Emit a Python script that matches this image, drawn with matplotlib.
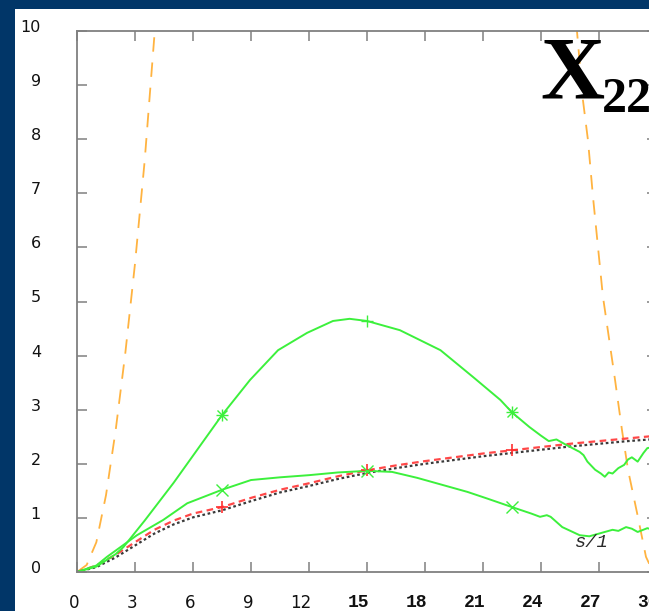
import numpy as np
import matplotlib
matplotlib.use("Agg")
import matplotlib.pyplot as plt
from matplotlib.patches import Rectangle
from matplotlib.transforms import ScaledTranslation

# data
upper_x = [0, 1, 2, 2.4, 3.5, 5, 6.5, 7.5, 8.95, 10.4, 11.9, 13.24, 14.1, 15.0, 16.7,
           18.8, 20.5, 21.9, 22.5, 23.4, 24.0, 24.4, 24.8, 25.3, 26.0, 26.2, 26.4,
           26.8, 27.1, 27.3, 27.5, 27.7, 28.0, 28.3, 28.5, 28.7, 29.0, 29.3, 29.5, 30]
upper_y = [0, 0.1, 0.33, 0.46, 0.95, 1.65, 2.4, 2.9, 3.55, 4.1, 4.42, 4.64, 4.68, 4.64, 4.47,
           4.1, 3.6, 3.18, 2.95, 2.68, 2.52, 2.42, 2.45, 2.35, 2.22, 2.16, 2.04,
           1.89, 1.82, 1.76, 1.84, 1.82, 1.92, 1.98, 2.08, 2.12, 2.04, 2.2, 2.29, 2.32]

lower_x = [0, 1, 1.55, 3.1, 4.45, 5.7, 7.5, 9, 10.5, 12, 13.5, 15, 16.3, 17.6, 19,
           20.2, 21.2, 22.5, 23.5, 23.95, 24.3, 24.5, 25.1, 26.0, 26.5, 26.9, 27.3,
           27.7, 28.0, 28.4, 28.7, 29.0, 29.5, 30]
lower_y = [0, 0.12, 0.28, 0.68, 0.96, 1.27, 1.52, 1.7, 1.75, 1.79, 1.84, 1.87, 1.85, 1.74, 1.6,
           1.48, 1.36, 1.2, 1.08, 1.02, 1.05, 1.02, 0.83, 0.68, 0.66, 0.7, 0.74,
           0.78, 0.76, 0.83, 0.8, 0.74, 0.81, 0.76]

s_x = [0, 1, 2, 3, 4, 5, 6, 7.5, 9, 10.5, 12, 13.5, 15, 16.5, 18, 19.5, 21, 22.5,
       24, 25.5, 27, 28.5, 30]
red_y = [0, 0.12, 0.32, 0.55, 0.78, 0.95, 1.08, 1.2, 1.37, 1.52, 1.64, 1.77, 1.88,
         1.97, 2.05, 2.12, 2.19, 2.25, 2.31, 2.37, 2.42, 2.47, 2.52]
black_y = [0, 0.09, 0.27, 0.49, 0.71, 0.88, 1.01, 1.14, 1.31, 1.47, 1.59, 1.72, 1.83,
           1.92, 2.0, 2.07, 2.14, 2.2, 2.26, 2.32, 2.37, 2.42, 2.46]

orange_left_x = [0, 0.5, 1, 1.5, 2, 2.5, 3, 3.5, 4, 4.1]
orange_left_y = [0, 0.13, 0.55, 1.42, 2.62, 4.05, 5.7, 7.6, 9.9, 10.4]
orange_right_x = [25.7, 25.86, 26.17, 26.43, 26.69, 27.2, 27.83, 28.19, 28.5, 28.97,
                  29.43, 29.8]
orange_right_y = [10.6, 10.0, 8.72, 7.98, 6.93, 5.1, 3.55, 2.62, 1.89, 1.09, 0.28, 0.0]

mark_x = [7.5, 15, 22.5]
x_ticks = [0, 3, 6, 9, 12, 15, 18, 21, 24, 27, 30]
y_ticks = list(range(11))

W, H = 649, 611
fig = plt.figure(figsize=(W / 100, H / 100), dpi=100, facecolor="#013668")
fig.patches.append(Rectangle((15 / W, 0), 1, 1 - 9 / H, transform=fig.transFigure,
                             facecolor="white", edgecolor="none", zorder=-5))

ax = fig.add_axes([77 / W, 39 / H, (657 - 77) / W, (572 - 31) / H])
ax.set_zorder(1)
ax.set_facecolor("white")
ax.set_xlim(0, 30)
ax.set_ylim(0, 10)

green = "#3cf03c"
ax.plot(orange_left_x, orange_left_y, color="#ffb340", lw=1.3, dashes=(8, 6))
ax.plot(orange_right_x, orange_right_y, color="#ffb340", lw=1.3, dashes=(8, 6))
ax.plot(s_x, black_y, color="#3a3a3a", lw=1.6, dashes=(1.2, 1.2))
ax.plot(s_x, red_y, color="#ff4848", lw=1.6, dashes=(3, 2))
ax.plot(upper_x, upper_y, color=green, lw=1.4)
ax.plot(lower_x, lower_y, color=green, lw=1.4)

ax.plot(mark_x, np.interp(mark_x, s_x, red_y), ls="none", marker="+", ms=8,
        mew=1.2, color="#ff3030")
up_m = np.interp(mark_x, upper_x, upper_y)
lo_m = np.interp(mark_x, lower_x, lower_y)
for i, (xm, ym) in enumerate(zip(mark_x, up_m)):
    ax.plot(xm, ym, ls="none", marker="+", ms=9, mew=1.0, color=green)
    if i != 1:
        ax.plot(xm, ym, ls="none", marker="x", ms=7, mew=1.0, color=green)
for xm, ym in zip(mark_x, lo_m):
    ax.plot(xm, ym, ls="none", marker="x", ms=8, mew=1.0, color=green)

fig.text(575 / W, 1 - 547 / H, "s/1", family="Liberation Mono", style="italic",
         fontsize=13.5, color="#2a2a2a", va="baseline", ha="left", zorder=3)

for side in ["left", "top", "bottom", "right"]:
    ax.spines[side].set_color("#808080")
    ax.spines[side].set_linewidth(1.3)

ax.set_xticks(x_ticks)
ax.set_yticks(y_ticks)
ax.tick_params(direction="in", length=7, width=1.1, color="#808080",
               top=True, right=True, labelsize=11.5, labelcolor="#111111")
ax.tick_params(axis="y", pad=26)
ax.tick_params(axis="x", pad=16)

for lab in ax.get_yticklabels():
    lab.set_family("DejaVu Sans")
    lab.set_transform(lab.get_transform() +
                      ScaledTranslation(0, 5 / 100, fig.dpi_scale_trans))
for t, lab in zip(x_ticks, ax.get_xticklabels()):
    lab.set_ha("right")
    if t >= 15:
        lab.set_family("Liberation Mono")
        lab.set_weight("bold")
        lab.set_fontsize(13)
    else:
        lab.set_family("DejaVu Sans")
        lab.set_fontsize(12)
    lab.set_transform(lab.get_transform() +
                      ScaledTranslation(2 / 100, 0, fig.dpi_scale_trans))

# big title in the corner
fig.text(540 / W, 1 - 97 / H, "X", family="Liberation Serif", weight="bold",
         fontsize=64, color="black", va="baseline", ha="left", zorder=3)
fig.text(602 / W, 1 - 112 / H, "22", family="Liberation Serif", weight="bold",
         fontsize=36, color="black", va="baseline", ha="left", zorder=3)

fig.savefig("out.png", dpi=100, facecolor=fig.get_facecolor())
